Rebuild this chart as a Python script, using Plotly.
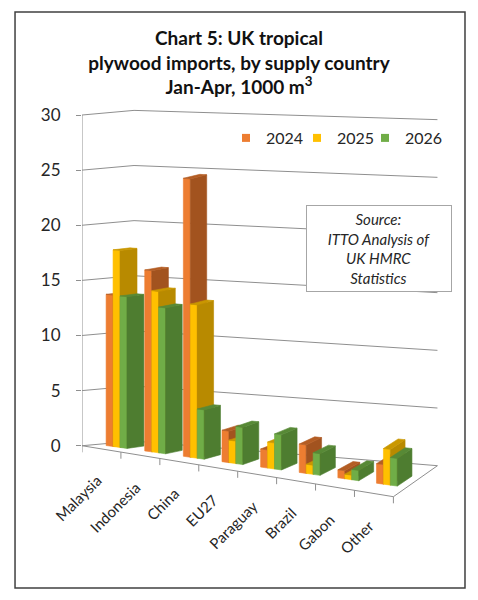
import plotly.graph_objects as go

# --- DATA (1000 m3) ---
countries = ["Malaysia", "Indonesia", "China", "EU27", "Paraguay", "Brazil", "Gabon", "Other"]
years = ["2024", "2025", "2026"]
imports_2024 = [13.7, 16.3, 24.9, 2.8, 1.6, 2.5, 0.7, 1.7]
imports_2025 = [17.8, 14.5, 13.7, 2.0, 2.3, 0.8, 0.4, 3.1]
imports_2026 = [13.7, 13.1, 4.4, 3.3, 3.1, 1.9, 0.9, 2.4]
y_ticks = [0, 5, 10, 15, 20, 25, 30]

series = [imports_2024, imports_2025, imports_2026]
front_cols = ["#ED7D31", "#FFC000", "#70AD47"]
side_cols = ["#A2531F", "#B88A00", "#4E7D30"]
top_cols = ["#B35D24", "#C99700", "#578936"]

FONT = "Lato, Open Sans, sans-serif"
GRID = "#8f8f8f"

# pseudo-3D box geometry (category units / depth 0..1)
GROUP_OFF = 0.22
BAR_W = 0.18
Z0, Z1 = 0.30, 0.63


def proj(u, z, v):
    # u = position along categories, z = depth (0 front, 1 back wall), v = value
    x = u - 0.0257 * u * z + 1.337 * z
    y = v * (1 + 0.0058 * u) - 0.578 * u + 0.42 * z + 0.299 * u * z
    return x, y


def path(points):
    xs, ys = [], []
    for p in points:
        if p is None:
            xs.append(None)
            ys.append(None)
        else:
            px, py = proj(*p)
            xs.append(px)
            ys.append(py)
    return xs, ys


fig = go.Figure()
n = len(countries)

# walls: gridlines on left side wall and back wall
pts = []
for t in y_ticks:
    pts += [(0, 0, t), (0, 1, t), (n, 1, t), None]
gx, gy = path(pts)
fig.add_trace(go.Scatter(x=gx, y=gy, mode="lines", line=dict(color=GRID, width=1),
                         hoverinfo="skip", showlegend=False))

# value axis line, floor front edge + right edge, category tick marks
pts = [(0, 0, 0), (0, 0, y_ticks[-1]), None,
       (0, 0, 0), (n, 0, 0), (n, 1, 0), None]
gx, gy = path(pts)
fig.add_trace(go.Scatter(x=gx, y=gy, mode="lines", line=dict(color=GRID, width=1),
                         hoverinfo="skip", showlegend=False))
tx, ty = [], []
for k in range(n + 1):
    px, py = proj(k, 0, 0)
    tx += [px, px, None]
    ty += [py, py - 0.6, None]
fig.add_trace(go.Scatter(x=tx, y=ty, mode="lines", line=dict(color=GRID, width=1),
                         hoverinfo="skip", showlegend=False))

# bars, painted left to right so nearer faces cover the hidden ones
for i, country in enumerate(countries):
    for j, vals in enumerate(series):
        v = vals[i]
        u0 = i + GROUP_OFF + j * BAR_W
        u1 = u0 + BAR_W
        faces = [
            ([(u0, Z0, 0), (u1, Z0, 0), (u1, Z0, v), (u0, Z0, v), (u0, Z0, 0)], front_cols[j]),
            ([(u1, Z0, 0), (u1, Z1, 0), (u1, Z1, v), (u1, Z0, v), (u1, Z0, 0)], side_cols[j]),
            ([(u0, Z0, v), (u1, Z0, v), (u1, Z1, v), (u0, Z1, v), (u0, Z0, v)], top_cols[j]),
        ]
        for k, (face, col) in enumerate(faces):
            fx, fy = path(face)
            fig.add_trace(go.Scatter(
                x=fx, y=fy, mode="lines", fill="toself", fillcolor=col,
                line=dict(color=col, width=0.6),
                hoverinfo="text" if k == 0 else "skip",
                text=f"{country} {years[j]}: {v}", hoveron="fills",
                showlegend=False))

# legend entries, one small legend per year so the spacing can match
legend_names = ["legend", "legend2", "legend3"]
legend_x = [226, 297, 365]
for j, yr in enumerate(years):
    fig.add_trace(go.Scatter(x=[None], y=[None], mode="markers", name=yr, legend=legend_names[j],
                             marker=dict(symbol="square", size=8, color=front_cols[j])))
legend_style = dict(orientation="h", xref="container", yref="container", y=0.77,
                    xanchor="left", yanchor="middle",
                    font=dict(family=FONT, size=16, color="#262626"), bgcolor="rgba(0,0,0,0)")

# category labels along the sloping front edge
for i, country in enumerate(countries):
    px, py = proj(i + 0.5, 0, 0)
    fig.add_annotation(x=px, y=py, xref="x", yref="y", text=country, showarrow=False,
                       textangle=-45, xanchor="right", yanchor="top", xshift=6, yshift=-20,
                       font=dict(family=FONT, size=15, color="#262626"))

# source box
fig.add_annotation(x=0.82, y=0.695, xref="paper", yref="paper", xanchor="center", yanchor="middle",
                   text="<i>Source:<br>ITTO Analysis of<br>UK HMRC<br>Statistics</i>",
                   showarrow=False, align="center", width=144, height=85,
                   bordercolor="#a6a6a6", borderwidth=1, borderpad=0, bgcolor="white",
                   font=dict(family=FONT, size=15, color="#262626"))

# outer chart border
fig.add_shape(type="rect", xref="paper", yref="paper", x0=-0.185, x1=1.058, y0=-0.021, y1=1.194,
              line=dict(color="#404040", width=1.5), layer="below")

fig.update_layout(
    width=478, height=600,
    margin=dict(l=82, r=34, t=104, b=22, autoexpand=False),
    paper_bgcolor="white", plot_bgcolor="white",
    title=dict(text="Chart 5: UK tropical<br>plywood imports, by supply country<br>Jan-Apr, 1000 m<sup>3</sup>",
               x=0.5, xanchor="center", y=0.925, yanchor="top",
               font=dict(family=FONT, size=19, color="#111111", weight="bold")),
    legend=dict(legend_style, x=legend_x[0] / 478),
    legend2=dict(legend_style, x=legend_x[1] / 478),
    legend3=dict(legend_style, x=legend_x[2] / 478),
    xaxis=dict(range=[0, 9.3], showgrid=False, zeroline=False, showticklabels=False,
               ticks="", showline=False, fixedrange=True, automargin=False),
    yaxis=dict(range=[-12, 31], showgrid=False, zeroline=False, showline=False,
               tickvals=y_ticks, ticks="outside", ticklen=5, tickcolor=GRID,
               ticklabelstandoff=12, fixedrange=True, automargin=False,
               tickfont=dict(family=FONT, size=17, color="#262626")),
    showlegend=True,
    hovermode="closest",
)

fig.write_html("out.html", config={"displayModeBar": False},
               post_script="document.body.style.margin='0';")
